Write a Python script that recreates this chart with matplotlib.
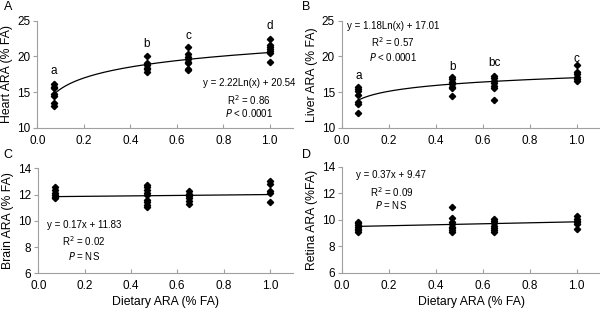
import numpy as np
import matplotlib
matplotlib.use("Agg")
import matplotlib.pyplot as plt

plt.rcParams['font.family'] = ['Liberation Sans', 'DejaVu Sans']

# Diet levels (x) for each group
diet_x = [0.07, 0.47, 0.65, 1.0]

# Panel A: Heart ARA
heart = [
    [16.1, 15.75, 15.5, 14.7, 14.5, 13.4, 13.1],
    [20.05, 19.1, 18.8, 18.4, 18.2, 17.85],
    [21.3, 20.3, 19.95, 19.6, 19.25, 19.0, 18.2, 18.1],
    [22.5, 21.6, 21.3, 21.0, 20.8, 20.5, 19.25],
]
heart_letters = ["a", "b", "c", "d"]
heart_letter_y = [18.0, 21.7, 22.85, 24.25]
heart_fit = (2.22, 20.54)  # log fit a*ln(x)+b

# Panel B: Liver ARA
liver = [
    [15.65, 15.37, 15.19, 14.58, 13.64, 13.27, 12.0],
    [17.15, 16.8, 16.45, 16.1, 15.75, 15.5, 14.44],
    [17.24, 16.9, 16.6, 16.2, 15.9, 15.6, 13.9],
    [18.8, 17.85, 17.5, 17.15, 16.8, 16.6],
]
liver_letters = ["a", "b", "bc", "c"]
liver_letter_y = [17.3, 18.5, 19.1, 19.6]
liver_fit = (1.18, 17.01)

# Panel C: Brain ARA
brain = [
    [12.55, 12.35, 12.1, 11.95, 11.85, 11.72],
    [12.75, 12.55, 12.35, 12.15, 11.95, 11.6, 11.4, 11.2, 11.08],
    [12.3, 12.05, 11.9, 11.7, 11.5, 11.3],
    [13.0, 12.8, 12.25, 12.15, 11.45],
]
brain_fit = (0.17, 11.83)  # linear a*x+b

# Panel D: Retina ARA
retina = [
    [9.85, 9.72, 9.57, 9.45, 9.32, 9.2, 9.1],
    [10.98, 10.15, 9.82, 9.65, 9.47, 9.35, 9.22, 9.1],
    [10.05, 9.9, 9.72, 9.52, 9.35, 9.22, 9.1],
    [10.3, 10.05, 9.9, 9.82, 9.65, 9.27],
]
retina_fit = (0.37, 9.47)

x_ticks = [0.0, 0.2, 0.4, 0.6, 0.8, 1.0]
x_ticklabels = ["0.0", "0.2", "0.4", "0.6", "0.8", "1.0"]

W, H = 600, 315
fig = plt.figure(figsize=(6, 3.15), dpi=100)

def px_axes(l, r, t, b):
    return fig.add_axes([l / W, 1 - b / H, (r - l) / W, (b - t) / H])

axA = px_axes(37.3, 293, 20.7, 127.7)
axB = px_axes(342, 600, 20.7, 127.7)
axC = px_axes(38.3, 293, 168.3, 273.3)
axD = px_axes(342, 600, 166.7, 272.7)

spine_c = "#a0a0a0"

def style(ax, ylim, yticks, ylabel, xlabel=None):
    ax.set_xlim(0, 1.1)
    ax.set_ylim(*ylim)
    ax.set_yticks(yticks)
    ax.set_xticks(x_ticks)
    ax.set_xticklabels(x_ticklabels)
    for s in ["top", "right"]:
        ax.spines[s].set_visible(False)
    for s in ["left", "bottom"]:
        ax.spines[s].set_color(spine_c)
        ax.spines[s].set_linewidth(0.8)
    ax.tick_params(axis="y", direction="out", length=3, color=spine_c,
                   labelsize=8.5, pad=2)
    ax.tick_params(axis="x", direction="in", length=3, color=spine_c,
                   labelsize=8.5, pad=5)
    ax.set_ylabel(ylabel, fontsize=8.8, labelpad=3)
    if xlabel:
        ax.set_xlabel(xlabel, fontsize=8.8, labelpad=3)
    ax.patch.set_alpha(0)

def scatter(ax, groups):
    for xv, ys in zip(diet_x, groups):
        ax.plot([xv] * len(ys), ys, linestyle="none", marker="D",
                markersize=3.2, color="black", zorder=3)

xf = np.linspace(diet_x[0], diet_x[-1], 200)

# A
style(axA, (10, 25), [10, 15, 20, 25], "Heart ARA (% FA)")
scatter(axA, heart)
axA.plot(xf, heart_fit[0] * np.log(xf) + heart_fit[1], color="black", lw=0.9)
for xv, lt, ly in zip(diet_x, heart_letters, heart_letter_y):
    axA.text(xv, ly, lt, ha="center", va="center", fontsize=8.5)
axA.text(0.911, 16.27, "y = 2.22Ln(x) + 20.54", ha="center", va="center", fontsize=7)
axA.text(0.911, 13.9, r"R$^2$ = 0.86", ha="center", va="center", fontsize=7)
axA.text(0.911, 12.06, r"$\it{P}$ < 0.0001", ha="center", va="center", fontsize=7)

# B
style(axB, (10, 25), [10, 15, 20, 25], "Liver ARA (% FA)")
scatter(axB, liver)
axB.plot(xf, liver_fit[0] * np.log(xf) + liver_fit[1], color="black", lw=0.9)
for xv, lt, ly in zip(diet_x, liver_letters, liver_letter_y):
    axB.text(xv, ly, lt, ha="center", va="center", fontsize=8.5)
axB.text(0.218, 24.26, "y = 1.18Ln(x) + 17.01", ha="center", va="center", fontsize=7)
axB.text(0.218, 22.0, r"R$^2$ = 0.57", ha="center", va="center", fontsize=7)
axB.text(0.218, 19.9, r"$\it{P}$ < 0.0001", ha="center", va="center", fontsize=7)

# C
style(axC, (6, 14), [6, 8, 10, 12, 14], "Brain ARA (% FA)", "Dietary ARA (% FA)")
scatter(axC, brain)
axC.plot(xf, brain_fit[0] * xf + brain_fit[1], color="black", lw=0.9)
axC.text(0.197, 9.68, "y = 0.17x + 11.83", ha="center", va="center", fontsize=7)
axC.text(0.197, 8.46, r"R$^2$ = 0.02", ha="center", va="center", fontsize=7)
axC.text(0.197, 7.32, r"$\it{P}$ = NS", ha="center", va="center", fontsize=7)

# D
style(axD, (6, 14), [6, 8, 10, 12, 14], "Retina ARA (%FA)", "Dietary ARA (% FA)")
scatter(axD, retina)
axD.plot(xf, retina_fit[0] * xf + retina_fit[1], color="black", lw=0.9)
axD.text(0.21, 13.37, "y = 0.37x + 9.47", ha="center", va="center", fontsize=7)
axD.text(0.21, 12.11, r"R$^2$ = 0.09", ha="center", va="center", fontsize=7)
axD.text(0.21, 11.1, r"$\it{P}$ = NS", ha="center", va="center", fontsize=7)

# Panel letters
for lab, px, py in [("A", 4, 7), ("B", 302, 7), ("C", 3, 155), ("D", 302, 155)]:
    fig.text(px / W, 1 - py / H, lab, ha="left", va="center", fontsize=9)

fig.savefig("out.png", dpi=100)
